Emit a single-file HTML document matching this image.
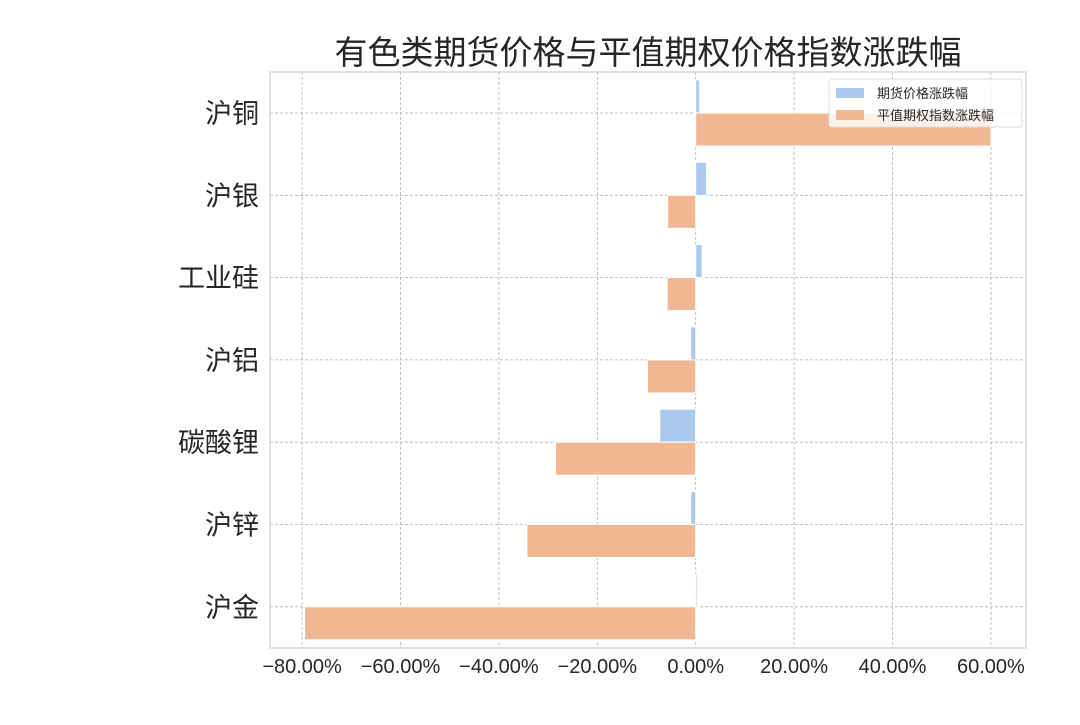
<!DOCTYPE html>
<html><head><meta charset="utf-8"><style>
body{margin:0;background:#fff;}
svg text{font-family:"Liberation Sans","Noto Sans CJK SC",sans-serif;fill:#262626;}
</style></head><body>
<svg id="c" width="1080" height="720" xmlns="http://www.w3.org/2000/svg">
<text x="648" y="64" font-size="33" text-anchor="middle">有色类期货价格与平值期权价格指数涨跌幅</text>
<g id="grid"></g><g id="bars"></g><g id="axes"></g>
</svg>
<script>
const categories=["沪铜","沪银","工业硅","沪铝","碳酸锂","沪锌","沪金"];
const futures=[0.8,2.2,1.3,-1.0,-7.3,-1.0,0.3];
const options=[60.0,-5.7,-5.8,-9.8,-28.5,-34.3,-79.5];
const xTicks=[-80,-60,-40,-20,0,20,40,60];
const NS="http://www.w3.org/2000/svg";
const L=270,R=1026,T=72,B=648;
const x=v=>695.7+v*4.92;
const yc=i=>113+i*82.3;
function el(t,a,p){const e=document.createElementNS(NS,t);for(const k in a)e.setAttribute(k,a[k]);p.appendChild(e);return e;}
const g=document.getElementById('grid'),bg=document.getElementById('bars'),ax=document.getElementById('axes');
xTicks.forEach(v=>{
 const l=el('line',{x1:x(v),x2:x(v),y1:T,y2:B,stroke:'#b0b0b0','stroke-width':0.8,'stroke-dasharray':'3,2'},g);
 
 
 const t=el('text',{x:x(v),y:673,'font-size':20,'text-anchor':'middle'},ax);
 t.textContent=(v<0?'−':'')+Math.abs(v).toFixed(2)+'%';
 
 
});
categories.forEach((c,i)=>{
 const l=el('line',{x1:L,x2:R,y1:yc(i),y2:yc(i),stroke:'#b0b0b0','stroke-width':0.8,'stroke-dasharray':'3,2'},g);
 
 
 const t=el('text',{x:259,y:yc(i)+10,'font-size':27,'text-anchor':'end'},ax);
 t.textContent=c;
 
 
 const f=futures[i],o=options[i];
 const b1=el('rect',{x:Math.min(x(0),x(f)),y:yc(i)-33,width:Math.abs(x(f)-x(0)),height:33,fill:'#abc9ec',stroke:'#fff','stroke-width':1},bg);
 
 
 const b2=el('rect',{x:Math.min(x(0),x(o)),y:yc(i),width:Math.abs(x(o)-x(0)),height:33,fill:'#f0b892',stroke:'#fff','stroke-width':1},bg);
 
 
});
el('rect',{x:L,y:T,width:R-L,height:B-T,fill:'none',stroke:'#d6d6d6','stroke-width':1.5},ax);
const lg=el('g',{},ax);


el('rect',{x:829,y:79,width:193,height:48,rx:3,fill:'#fff','fill-opacity':0.8,stroke:'#ddd'},lg);
el('rect',{x:836,y:88,width:28,height:10,fill:'#abc9ec'},lg);
el('rect',{x:836,y:110,width:28,height:10,fill:'#f0b892'},lg);
const t1=el('text',{x:877,y:98,'font-size':13},lg);t1.textContent='期货价格涨跌幅';


const t2=el('text',{x:877,y:120,'font-size':13},lg);t2.textContent='平值期权指数涨跌幅';


</script>
</body></html>
